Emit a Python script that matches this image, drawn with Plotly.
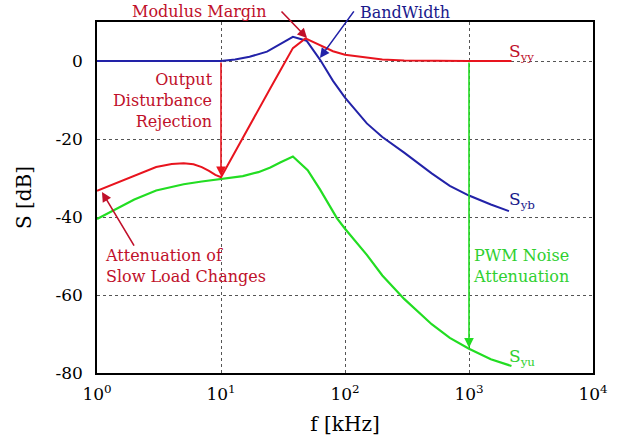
import plotly.graph_objects as go

# ---- data ----
f_yb = [1, 3, 10, 13, 17, 23.5, 31.6, 38, 49, 63, 80, 100, 150, 200, 300, 500, 700, 1000, 1500, 2100]
s_yb = [0, 0, 0, 0.4, 1.1, 2.4, 4.7, 6.2, 5.2, 0.3, -5.1, -9.4, -16, -19.5, -23.5, -28.8, -32, -34.5, -36.8, -38.5]

f_yy = [1, 1.5, 2, 3, 4, 5, 6, 7, 8, 9, 10, 12, 15, 20, 25, 30, 38, 48, 60, 80, 100, 150, 200, 300, 500, 1000, 2200]
s_yy = [-33.3, -31, -29.5, -27.2, -26.4, -26.2, -26.5, -27.2, -28.2, -29.2, -29.8, -25.2, -19.7, -12.6, -7, -2.5, 3.3, 5.8, 4.3, 2.5, 1.6, 0.8, 0.4, 0.1, 0, 0, 0]

f_yu = [1, 1.5, 2, 3, 4, 5, 7, 10, 15, 20, 25, 30, 38, 50, 63, 86, 100, 150, 200, 300, 500, 700, 1000, 1500, 2200]
s_yu = [-40.5, -37.5, -35.5, -33.2, -32.2, -31.6, -30.9, -30.3, -29.5, -28.5, -27.3, -26, -24.5, -28, -33, -40.3, -43, -49.7, -55, -61, -67.5, -71, -73.8, -76.5, -78.2]

x_tickvals = [1, 10, 100, 1000, 10000]
x_ticktext = ["10<sup>0</sup>", "10<sup>1</sup>", "10<sup>2</sup>", "10<sup>3</sup>", "10<sup>4</sup>"]
y_tickvals = [-80, -60, -40, -20, 0]
y_ticktext = ["-80", "-60", "-40", "-20", "0"]

RED = "#e8141e"
RED_T = "#c0102a"
BLUE = "#2222a8"
BLUE_T = "#1a1a8c"
GREEN = "#22dd22"
GREEN_T = "#30d030"
FONT = "DejaVu Serif"

fig = go.Figure()
fig.add_trace(go.Scatter(x=f_yb, y=s_yb, mode="lines", line=dict(color=BLUE, width=2), showlegend=False))
fig.add_trace(go.Scatter(x=f_yu, y=s_yu, mode="lines", line=dict(color=GREEN, width=2.2), showlegend=False))
fig.add_trace(go.Scatter(x=f_yy, y=s_yy, mode="lines", line=dict(color=RED, width=2), showlegend=False))

ann = []
def text(x, y, t, color, xanchor="center", align="center", size=16, yref="y"):
    ann.append(dict(x=x, y=y, xref="x", yref=yref, text=t, showarrow=False,
                    font=dict(family=FONT, size=size, color=color),
                    xanchor=xanchor, yanchor="middle", align=align))

text(0.83, 1.031, "Modulus Margin", RED_T, yref="paper")
text(2.48, 1.028, "BandWidth", BLUE_T, yref="paper")
text(0.95, -10, "Output<br>Disturbance<br>Rejection", RED_T, xanchor="right", align="right")
text(0.045, -52.6, "Attenuation of<br>Slow Load Changes", RED_T, xanchor="left", align="left")
text(3.02, -52.6, "PWM Noise<br>Attenuation", GREEN_T, xanchor="left", align="left")
text(3.31, 2.2, "S<sub>yy</sub>", RED_T, xanchor="left", align="left", size=17)
text(3.31, -35.8, "S<sub>yb</sub>", BLUE_T, xanchor="left", align="left", size=17)
text(3.31, -76, "S<sub>yu</sub>", GREEN_T, xanchor="left", align="left", size=17)

def arrow(x, y, ax, ay, color, data_tail=False):
    d = dict(x=x, y=y, xref="x", yref="y", text="", showarrow=True, ax=ax, ay=ay,
             arrowhead=2, arrowsize=1.2, arrowwidth=1.6, arrowcolor=color)
    if data_tail:
        d.update(axref="x", ayref="y")
    ann.append(d)

arrow(1.694, 5.9, -27, -28, RED_T)
arrow(1.798, 0.8, 35, -48, BLUE)
arrow(0.04, -33.6, 33, 55, RED_T)
arrow(1, -29.5, 1, 0, RED, data_tail=True)
arrow(3, -73.5, 3, 0, GREEN, data_tail=True)

fig.update_layout(
    width=624, height=441,
    margin=dict(l=97, r=31, t=22, b=68),
    paper_bgcolor="white", plot_bgcolor="white",
    font=dict(family=FONT, size=17, color="black"),
    annotations=ann,
    xaxis=dict(type="log", range=[0, 4], tickvals=x_tickvals, ticktext=x_ticktext,
               showgrid=True, gridcolor="#555555", griddash="dot", gridwidth=1,
               showline=True, linecolor="black", linewidth=1.5, mirror=True,
               ticks="", ticklabelstandoff=5, automargin=False,
               title=dict(text="f [kHz]", standoff=14), zeroline=False),
    yaxis=dict(range=[-80, 10], tickvals=y_tickvals, ticktext=y_ticktext,
               showgrid=True, gridcolor="#555555", griddash="dot", gridwidth=1,
               showline=True, linecolor="black", linewidth=1.5, mirror=True,
               ticks="", ticklabelstandoff=9, automargin=False,
               title=dict(text="S [dB]", standoff=18), zeroline=False),
)

fig.write_html("out.html", config={"displayModeBar": False},
               post_script="document.body.style.margin='0';")
